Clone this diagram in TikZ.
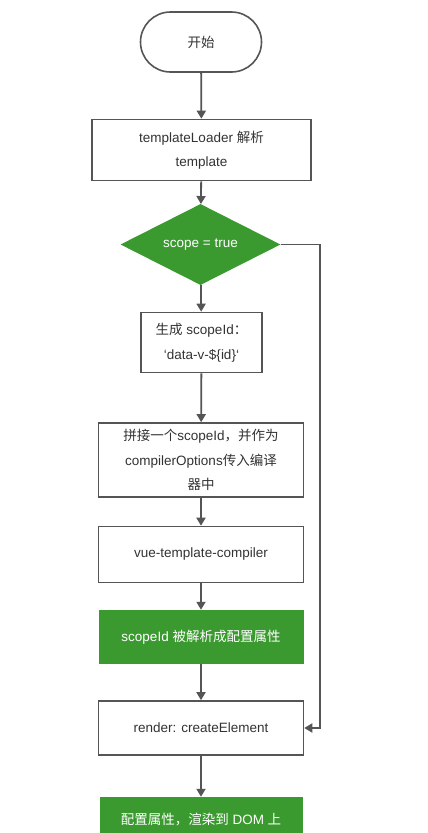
\documentclass[tikz,border=0pt]{standalone}
\usepackage{fontspec}
\setmainfont{Liberation Sans}
\newfontfamily\cjk{Noto Sans CJK SC}
\usetikzlibrary{shapes.geometric,arrows.meta}
\definecolor{flowgreen}{HTML}{3B9A2F}
\definecolor{linegrey}{HTML}{555555}
\definecolor{txtgrey}{HTML}{333333}
\begin{document}
\begin{tikzpicture}[x=1pt,y=-1pt,
  every node/.style={font=\fontsize{13.5}{24.5}\selectfont, text=txtgrey, align=center, inner sep=0pt},
  procbox/.style={draw=linegrey, line width=1.6pt, fill=white, rectangle},
  greenbox/.style={fill=flowgreen, rectangle, text=white},
  conn/.style={draw=linegrey, line width=1.8pt, -{Triangle[length=8pt,width=9pt]}}]
\useasboundingbox (0,0) rectangle (428,833);
\fill[white] (0,0) rectangle (428,833);
\node[procbox, rounded corners=30pt, minimum width=121pt, minimum height=60pt] (start) at (201,42) {{\cjk 开始}};
\node[procbox, minimum width=219pt, minimum height=61pt] (load) at (201.5,150) {templateLoader {\cjk 解析}\\template};
\node[diamond, fill=flowgreen, text=white, minimum width=160pt, minimum height=81pt, aspect=2] (dec) at (200.5,244.5) {scope = true};
\node[procbox, minimum width=121pt, minimum height=60pt] (sid) at (201.5,342.5) {{\cjk 生成} scopeId{\cjk ：}\\\symbol{96}data-v-\$\{id\}\symbol{96}};
\node[procbox, minimum width=205pt, minimum height=74pt] (concat) at (201,460) {{\cjk 拼接一个}scopeId{\cjk ，并作为}\\compilerOptions{\cjk 传入编译}\\{\cjk 器中}};
\node[procbox, minimum width=205pt, minimum height=56pt] (vtc) at (201,554.5) {vue-template-compiler};
\node[greenbox, minimum width=205pt, minimum height=54pt] (parse) at (201,637) {scopeId {\cjk 被解析成配置属性}};
\node[procbox, minimum width=205pt, minimum height=54pt] (render) at (201,728) {render: createElement};
\begin{scope}
\clip (0,0) rectangle (428,833);
\node[greenbox, minimum width=203pt, minimum height=46pt] (dom) at (201,820) {{\cjk 配置属性，渲染到} DOM {\cjk 上}};
\end{scope}
\coordinate (c1) at (320,244.5);
\coordinate (c2) at (320,728);
\draw[conn] (start) -- (load);
\draw[conn] (load) -- (dec);
\draw[conn] (dec) -- (sid);
\draw[conn] (sid) -- (concat);
\draw[conn] (concat) -- (vtc);
\draw[conn] (vtc) -- (parse);
\draw[conn] (parse) -- (render);
\draw[conn] (render) -- (dom.north);
\draw[conn] (dec.east) -- (c1) -- (c2) -- (render.east);
\end{tikzpicture}
\end{document}
